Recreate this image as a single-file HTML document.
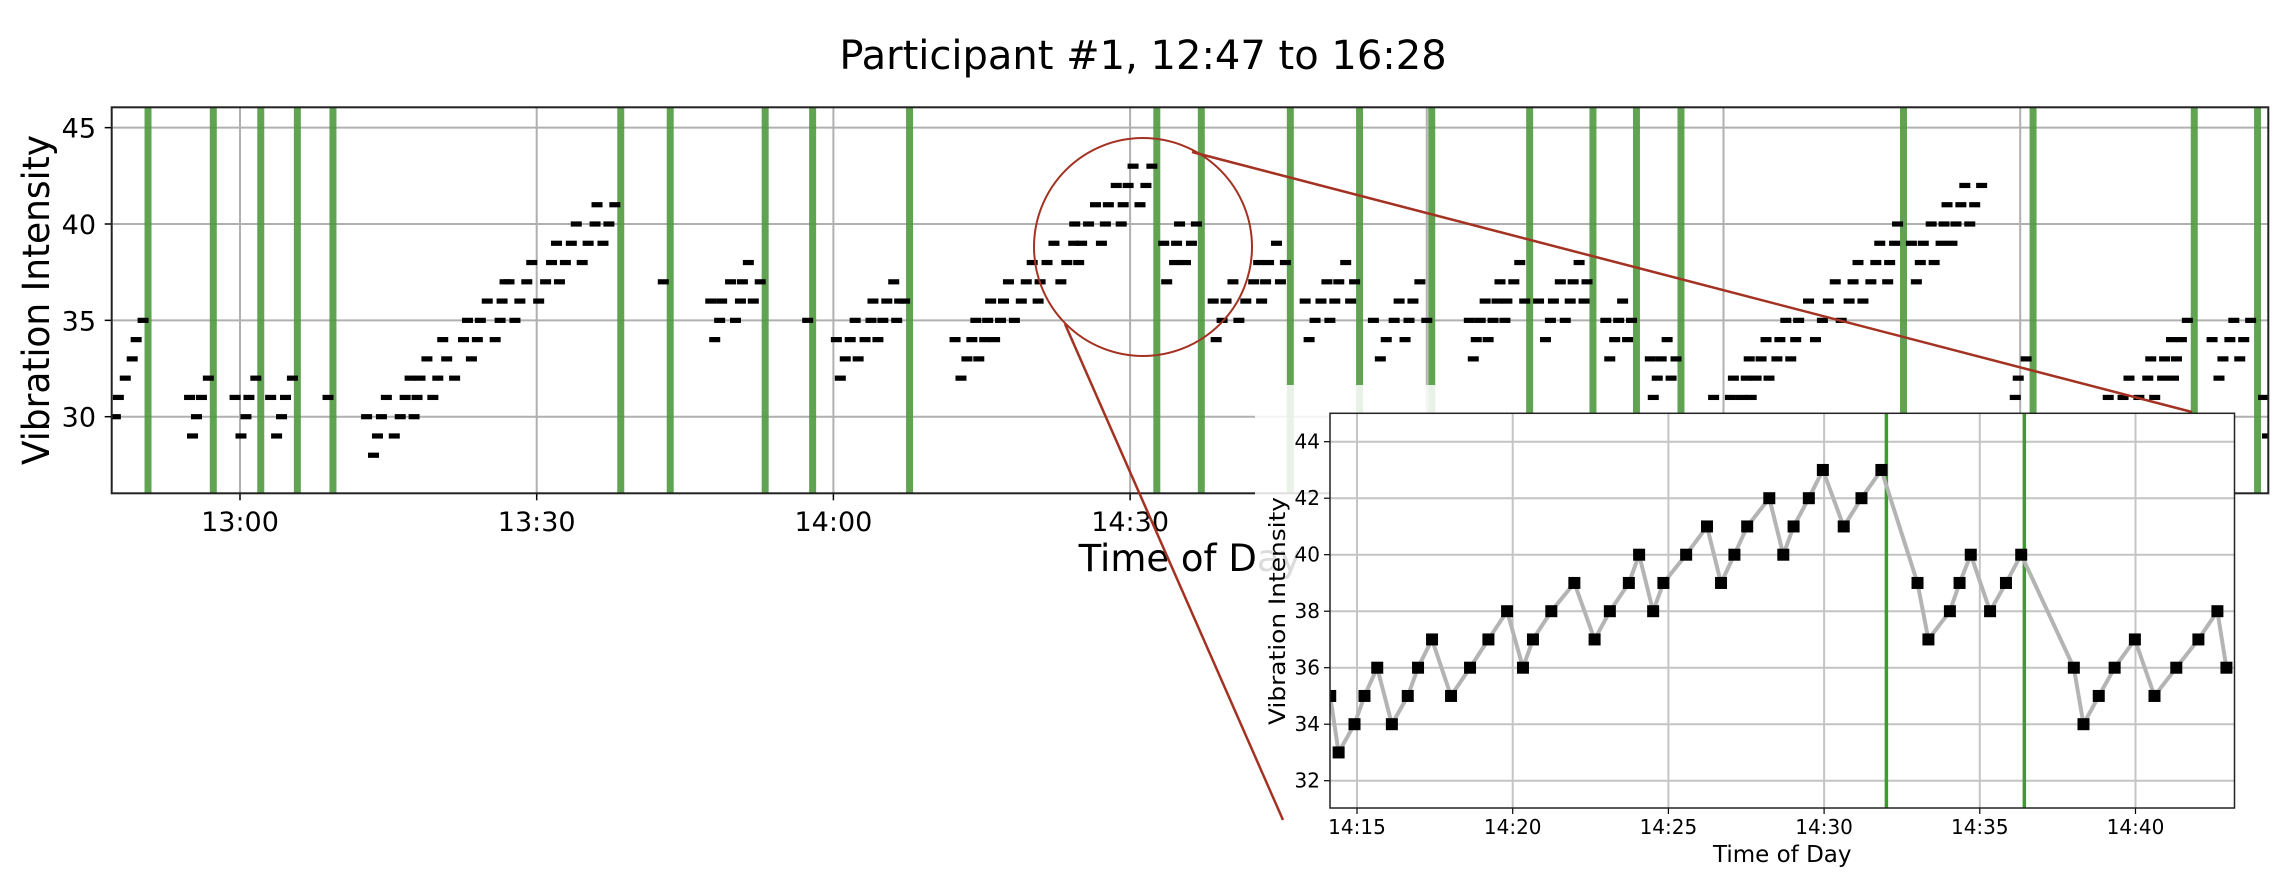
<!DOCTYPE html>
<html><head><meta charset="utf-8"><style>
html,body{margin:0;padding:0;background:#fff}
svg{display:block}
text{font-family:"DejaVu Sans","Liberation Sans",sans-serif;fill:#000}
</style></head><body>
<svg id="fig" width="2286" height="888" viewBox="0 0 2286 888" xmlns="http://www.w3.org/2000/svg">
<rect x="0" y="0" width="2286" height="888" fill="#fff"/>
<text x="1143" y="69" font-size="40" text-anchor="middle">Participant #1, 12:47 to 16:28</text>
<g id="main"></g>
<rect x="1255" y="385" width="225" height="503" fill="#fff" fill-opacity="0.86"/>
<g id="zoomind"></g>
<g id="inset"></g>
</svg>
<script>
// ---- main chart data (minutes after 13:00) ----
const mainTimes = [-12.6,-12.3,-11.6,-10.9,-10.5,-9.8,
-5.1,-4.8,-4.4,-3.9,-3.2,
-0.5,0.1,0.6,0.9,1.6,
3.1,3.7,4.2,4.6,5.3,
8.9,
12.8,13.5,13.9,14.3,14.8,15.6,16.2,16.7,17.2,17.6,17.9,18.2,18.9,19.5,20.0,20.5,20.9,21.7,22.6,23.0,23.4,24.0,24.3,25.0,25.8,26.3,26.5,26.8,27.2,27.8,28.3,29.0,29.5,30.2,30.9,31.5,32.0,32.3,32.9,33.5,34.0,34.6,35.2,35.9,36.1,36.7,37.3,37.9,
42.8,
47.6,48.0,48.5,48.7,49.6,50.1,50.6,50.8,51.4,51.9,52.6,
57.4,
60.3,60.7,61.2,61.7,62.2,62.5,63.2,63.8,64.0,64.5,65.0,65.4,66.1,66.4,66.7,67.2,
72.3,72.9,73.5,74.0,74.4,74.7,75.3,75.6,75.9,76.3,76.9,77.2,77.7,78.3,79.0,79.5,80.1,80.7,80.9,81.6,82.3,83.0,83.6,84.3,84.4,84.8,85.1,85.8,86.5,87.1,87.5,87.8,88.6,89.1,89.3,89.8,90.3,91.0,91.6,92.2,
93.4,93.7,94.5,94.7,95.0,95.6,96.2,96.7,
98.4,98.7,99.3,99.7,100.4,101.0,101.7,102.5,103.0,103.3,103.7,104.0,104.8,105.2,105.7,
107.7,108.1,108.7,109.3,109.9,110.2,110.7,111.1,111.8,112.3,112.7,
114.6,115.3,115.9,116.7,117.2,117.8,118.2,118.6,119.3,120.0,
124.3,124.7,125.0,125.4,125.9,126.2,126.7,127.1,127.4,127.9,128.1,128.8,129.4,129.9,
131.3,132.0,132.5,132.8,133.5,134.0,134.5,134.8,135.4,135.9,136.2,
138.1,138.5,139.0,139.4,139.8,140.3,140.7,
142.6,142.9,143.3,143.7,144.3,144.7,145.2,
149.0,150.7,151.0,151.8,152.3,152.6,152.8,153.3,153.8,154.3,154.6,155.4,155.7,156.3,156.8,157.3,157.6,158.6,159.3,160.0,160.6,161.3,161.9,162.7,163.1,163.6,164.1,164.9,165.4,165.8,166.6,166.8,167.3,167.6,169.0,169.5,169.9,170.2,171.0,171.3,172.0,172.3,172.6,173.1,173.5,174.0,174.4,174.9,175.4,176.1,
179.5,179.8,180.6,
188.9,190.4,191.0,192.0,192.9,193.2,193.6,194.4,194.6,195.3,195.5,195.8,196.3,196.9,
199.4,200.1,200.5,201.2,201.6,202.2,202.6,203.3,
204.6,205.0];
const mainValues = [30,31,32,33,34,35,
31,29,30,31,32,
31,29,30,31,32,
31,29,30,31,32,
31,
30,28,29,30,31,29,30,31,32,30,31,32,33,31,32,34,33,32,34,35,33,34,35,36,34,35,36,37,37,35,36,37,38,36,37,38,39,37,38,39,40,38,39,40,41,39,40,41,
37,
36,34,35,36,37,35,36,37,38,36,37,
35,
34,32,33,34,35,33,34,35,36,34,35,36,37,35,36,36,
34,32,33,34,35,33,34,35,36,34,35,36,37,35,36,37,38,36,37,38,39,37,38,39,40,38,39,40,41,39,40,41,42,40,41,42,43,41,42,43,
39,37,38,39,40,38,39,40,
36,34,35,36,37,35,36,37,38,36,37,38,39,37,38,
36,34,35,36,37,35,36,37,38,36,37,
35,33,34,35,36,34,35,36,37,35,
35,33,34,35,36,34,35,36,37,35,36,37,38,36,
36,34,35,36,37,35,36,37,38,36,37,
35,33,34,35,36,34,35,
33,31,32,33,34,32,33,
31,31,32,31,32,33,31,32,33,34,32,33,34,35,33,34,35,36,34,35,36,37,35,36,37,38,36,37,38,39,37,38,39,40,39,37,38,39,40,38,39,40,41,39,40,41,42,40,41,42,
31,32,33,
31,31,32,31,32,33,31,32,33,34,32,33,34,35,
34,32,33,34,35,33,34,35,
31,29];
const mainEvents = [-9.3,-2.7,2.1,5.8,9.4,38.5,43.5,53.1,57.9,67.7,92.7,97.2,106.2,113.2,120.5,130.4,136.8,141.2,145.7,168.2,181.3,197.6,204.0];
const mainYTicks = [30,35,40,45];
const mainXTicks = [0,30,60,90,120,150,180];
const mainXTickLabels = ["13:00","13:30","14:00","14:30","15:00","15:30","16:00"];

// ---- inset data (minutes after 14:15) ----
const insetTimes = [-0.86,-0.59,-0.08,0.24,0.65,1.12,1.63,1.96,2.41,3.02,3.63,4.22,4.82,5.33,5.65,6.24,6.98,7.63,8.12,8.73,9.06,9.51,9.84,10.57,11.24,11.69,12.12,12.53,13.24,13.69,14.02,14.51,14.96,15.63,16.2,16.84,18.0,18.35,19.04,19.35,19.71,20.33,20.84,21.33,23.02,23.33,23.82,24.33,24.98,25.61,26.31,27.02,27.63,27.92];
const insetValues = [35,33,34,35,36,34,35,36,37,35,36,37,38,36,37,38,39,37,38,39,40,38,39,40,41,39,40,41,42,40,41,42,43,41,42,43,39,37,38,39,40,38,39,40,36,34,35,36,37,35,36,37,38,36];
const insetEvents = [17.0,21.43];
const insetYTicks = [32,34,36,38,40,42,44];
const insetXTicks = [0,5,10,15,20,25];
const insetXTickLabels = ["14:15","14:20","14:25","14:30","14:35","14:40"];

const NS = "http://www.w3.org/2000/svg";
function mk(parent, tag, attrs, txt){
  const e = document.createElementNS(NS, tag);
  for (const k in attrs) e.setAttribute(k, attrs[k]);
  if (txt !== undefined) e.textContent = txt;
  parent.appendChild(e);
  return e;
}

// main axes geometry
const M = {l:111.7, r:2268.3, t:107.3, b:493.3};
const mx = t => 240 + t*9.89;
const my = v => 416.7 - (v-30)*19.27;
const main = document.getElementById('main');
let defs = mk(main,'defs',{});
let cp = mk(defs,'clipPath',{id:'mainclip'});
mk(cp,'rect',{x:M.l,y:M.t,width:M.r-M.l,height:M.b-M.t});

mainYTicks.forEach(v=>{
  const g = mk(main,'line',{x1:M.l,x2:M.r,y1:my(v),y2:my(v),stroke:'#b0b0b0','stroke-width':2});
  
  
  const tk = mk(main,'line',{x1:M.l-7,x2:M.l,y1:my(v),y2:my(v),stroke:'#000','stroke-width':1.5});
  
  
  const lb = mk(main,'text',{x:96,y:my(v)+10,'font-size':27,'text-anchor':'end'},String(v));
  
  
});
mainXTicks.forEach((t,i)=>{
  const g = mk(main,'line',{x1:mx(t),x2:mx(t),y1:M.t,y2:M.b,stroke:'#b0b0b0','stroke-width':2});
  
  
  const tk = mk(main,'line',{x1:mx(t),x2:mx(t),y1:M.b,y2:M.b+7,stroke:'#000','stroke-width':1.5});
  
  
  const lb = mk(main,'text',{x:mx(t),y:531,'font-size':27,'text-anchor':'middle'},mainXTickLabels[i]);
  
  
});
const evG = mk(main,'g',{'clip-path':'url(#mainclip)'});


mainEvents.forEach(t=>{
  const l = mk(evG,'line',{x1:mx(t),x2:mx(t),y1:M.t,y2:M.b,stroke:'#4f9a3f','stroke-width':7,'stroke-opacity':0.9});
  
  
});
const ptG = mk(main,'g',{'clip-path':'url(#mainclip)'});


mainTimes.forEach((t,i)=>{
  const r = mk(ptG,'rect',{x:mx(t)-5.5,y:my(mainValues[i])-2.6,width:11,height:5.2,fill:'#000'});
  
  
});
const frame = mk(main,'rect',{x:M.l,y:M.t,width:M.r-M.l,height:M.b-M.t,fill:'none',stroke:'#222','stroke-width':2});


const xl = mk(main,'text',{x:1190,y:571,'font-size':37,'text-anchor':'middle'},'Time of Day');


const yl = mk(main,'text',{x:0,y:0,'font-size':37,'text-anchor':'middle',transform:'translate(49,300) rotate(-90)',textLength:330,lengthAdjust:'spacingAndGlyphs'},'Vibration Intensity');



// zoom indicator
const zi = document.getElementById('zoomind');
const c = mk(zi,'circle',{cx:1143,cy:247,r:109,fill:'none',stroke:'#a33222','stroke-width':2});


const l1 = mk(zi,'line',{x1:1192,y1:152,x2:2192,y2:412,stroke:'#a33222','stroke-width':2.5});


const l2 = mk(zi,'line',{x1:1065,y1:324,x2:1283,y2:820,stroke:'#a33222','stroke-width':2.5});



// inset
const I = {l:1330, r:2234.5, t:413.3, b:808};
const ix = t => 1357 + t*31.14;
const iy = v => 780.7 - (v-32)*28.25;
const ins = document.getElementById('inset');
const bg = mk(ins,'rect',{x:I.l,y:I.t,width:I.r-I.l,height:I.b-I.t,fill:'#fff'});


let cp2 = mk(mk(ins,'defs',{}),'clipPath',{id:'insclip'});
mk(cp2,'rect',{x:I.l,y:I.t,width:I.r-I.l,height:I.b-I.t});
insetYTicks.forEach(v=>{
  const g = mk(ins,'line',{x1:I.l,x2:I.r,y1:iy(v),y2:iy(v),stroke:'#c4c4c4','stroke-width':2});
  
  
  const tk = mk(ins,'line',{x1:I.l-6,x2:I.l,y1:iy(v),y2:iy(v),stroke:'#000','stroke-width':1.2});
  
  
  const lb = mk(ins,'text',{x:1320,y:iy(v)+7,'font-size':20,'text-anchor':'end'},String(v));
  
  
});
insetXTicks.forEach((t,i)=>{
  const g = mk(ins,'line',{x1:ix(t),x2:ix(t),y1:I.t,y2:I.b,stroke:'#c4c4c4','stroke-width':2});
  
  
  const tk = mk(ins,'line',{x1:ix(t),x2:ix(t),y1:I.b,y2:I.b+6,stroke:'#000','stroke-width':1.2});
  
  
  const lb = mk(ins,'text',{x:ix(t),y:834,'font-size':20,'text-anchor':'middle'},insetXTickLabels[i]);
  
  
});
const ig = mk(ins,'g',{'clip-path':'url(#insclip)'});


insetEvents.forEach(t=>{
  const l = mk(ig,'line',{x1:ix(t),x2:ix(t),y1:I.t,y2:I.b,stroke:'#3f9a2f','stroke-width':3.5});
  
  
});
const pts = insetTimes.map((t,i)=>ix(t).toFixed(1)+','+iy(insetValues[i]).toFixed(1)).join(' ');
const pl = mk(ig,'polyline',{points:pts,fill:'none',stroke:'#b4b4b4','stroke-width':4,'stroke-linejoin':'round'});


insetTimes.forEach((t,i)=>{
  const r = mk(ig,'rect',{x:ix(t)-6,y:iy(insetValues[i])-6,width:12,height:12,fill:'#000'});
  
  
});
const ifr = mk(ins,'rect',{x:I.l,y:I.t,width:I.r-I.l,height:I.b-I.t,fill:'none',stroke:'#222','stroke-width':1.5});


const ixl = mk(ins,'text',{x:(I.l+I.r)/2,y:862,'font-size':23,'text-anchor':'middle'},'Time of Day');


const iyl = mk(ins,'text',{x:0,y:0,'font-size':22,'text-anchor':'middle',transform:'translate(1285,611) rotate(-90)',textLength:228,lengthAdjust:'spacingAndGlyphs'},'Vibration Intensity');


</script>
</body></html>
